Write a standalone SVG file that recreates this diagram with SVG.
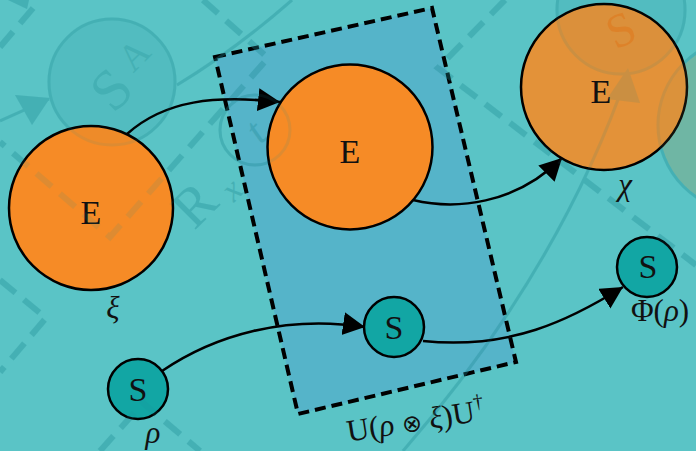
<svg xmlns="http://www.w3.org/2000/svg" xmlns:xlink="http://www.w3.org/1999/xlink" width="696" height="451" viewBox="0 0 696 451">
<defs>
<style>
.wm{fill:none;stroke:#1E8C96;stroke-width:3}
.wmd{fill:none;stroke:#1E8C96;stroke-width:6;stroke-dasharray:20 11}
.wmt{font-family:"Liberation Serif","DejaVu Serif",serif;fill:#1E8C96}
.box{fill:#55B4C9;stroke:#000;stroke-width:4;stroke-dasharray:11 6}
.env{fill:#F68B26;stroke:#000;stroke-width:2.5}
.sys{fill:#12A6A4;stroke:#000;stroke-width:2.5}
.lbl{font-family:"Liberation Serif","DejaVu Serif",serif;font-size:34px;fill:#111;text-anchor:middle}
.math{font-family:"Liberation Serif","DejaVu Serif",serif;font-size:31px;fill:#111;text-anchor:middle}
.edge{fill:none;stroke:#000;stroke-width:2.5;marker-end:url(#ah)}
</style>
<marker id="ah" markerUnits="userSpaceOnUse" markerWidth="24" markerHeight="24" refX="22" refY="11.5" orient="auto" viewBox="0 0 24 24"><path d="M0,0 L22,11.5 L0,23 z" fill="#000"/></marker>
</defs>
<rect width="696" height="451" fill="#5AC4C6"/>

<g id="box">
<polygon class="box" points="215,57 432,8 516,362 298,414"/>
<text class="math" transform="rotate(-9 416 423)" x="416" y="431">U(<tspan font-style="italic">ρ</tspan> <tspan font-family="DejaVu Sans, sans-serif" font-size="24">⊗</tspan> <tspan font-style="italic">ξ</tspan>)U<tspan font-size="20" dy="-13">†</tspan></text>
</g>

<g id="watermark" opacity="0.25">
<circle cx="112" cy="82" r="63" class="wm" style="fill:#1E8C96;fill-opacity:0.3"/>
<text class="wmt" transform="rotate(-45 112 82)"><tspan x="90" y="106" font-size="58">S</tspan><tspan x="133" y="91" font-size="38">A</tspan></text>
<path class="wm" d="M0,121 L49,99"/>
<polygon points="15,95 50,98 32,125" fill="#1E8C96"/>
<polygon points="8,0 29,0 27,9" fill="#1E8C96"/>
<path class="wm" d="M177,85 Q235,50 292,0"/>
<path class="wmd" d="M0,47 L40,0"/>
<polyline class="wmd" points="203,0 268,58 110,237 0,142"/>
<polyline class="wmd" points="0,280 46,318 0,372"/>
<polyline class="wmd" points="100,451 143,403 200,451"/>
<polyline class="wmd" points="505,0 438,68 696,265"/>
<path class="wm" d="M403,451 Q560,270 628,72"/>
<polygon points="628,68 607,99 640,103" fill="#1E8C96"/>
<circle cx="621" cy="10" r="64" class="wm" style="fill:#1E8C96;fill-opacity:0.3"/>
<circle cx="745" cy="125" r="87" class="wm" style="fill:#9A9D66"/>
<circle cx="255" cy="130" r="35" class="wm"/>
<text class="wmt" transform="rotate(-45 200 200)"><tspan x="174" y="218" font-size="56">R</tspan><tspan x="222" y="226" font-size="34" font-style="italic">x</tspan><tspan x="282" y="204" font-size="40" font-style="italic">t</tspan></text>
</g>

<g id="connectors">
<path class="edge" d="M127,134 C165,100 215,95 280,102"/>
<path class="edge" d="M413,200 C455,210 515,205 562,158"/>
<path class="edge" d="M162,371 C215,335 285,315 365,327"/>
<path class="edge" d="M423,341 C510,350 570,320 623,287"/>
</g>

<g id="E1">
<circle class="env" cx="91" cy="208" r="82"/>
<text class="lbl" x="91" y="224">E</text>
<text class="math" x="113" y="318" font-style="italic">ξ</text>
</g>
<g id="E2">
<circle class="env" cx="350" cy="147" r="82.5"/>
<text class="lbl" x="350" y="163">E</text>
</g>
<g id="E3">
<circle class="env" cx="604" cy="87" r="83" fill-opacity="0.88"/>
<text class="lbl" x="601" y="103">E</text>
<text class="math" x="625" y="195" font-style="italic">χ</text>
</g>
<g id="S1">
<circle class="sys" cx="138" cy="389" r="30"/>
<text class="lbl" x="138" y="401">S</text>
<text class="math" x="153" y="443" font-style="italic">ρ</text>
</g>
<g id="S2">
<circle class="sys" cx="394" cy="327" r="30"/>
<text class="lbl" x="394" y="339">S</text>
</g>
<g id="S3">
<circle class="sys" cx="647" cy="267" r="30"/>
<text class="lbl" x="648" y="278">S</text>
<text class="math" x="660" y="321">Φ(<tspan font-style="italic">ρ</tspan>)</text>
</g>

<use xlink:href="#watermark" href="#watermark" opacity="0.45"/>
<text transform="rotate(-25 620 28)" x="620" y="46" font-family="Liberation Serif, serif" font-size="48" text-anchor="middle" fill="#E0781C" opacity="0.55">S</text>
</svg>
